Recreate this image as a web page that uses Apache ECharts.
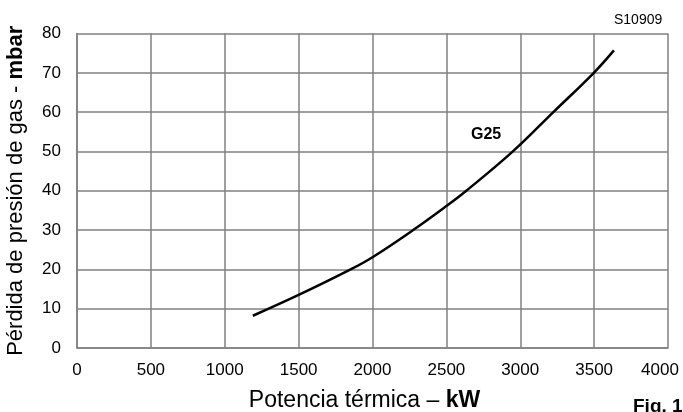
<!DOCTYPE html>
<html><head><meta charset="utf-8">
<script src="https://cdn.jsdelivr.net/npm/echarts@6/dist/echarts.min.js"></script>
<style>html,body{margin:0;padding:0;background:#fff}#c{width:683px;height:412px}</style>
</head><body><div id="c"></div>
<script>
const powerKW = [1190, 1500, 1852, 2000, 2275, 2500, 2635, 2950, 3224, 3498, 3634];
const pressureMbar = [8.2, 13.5, 20, 23.1, 30, 36.1, 40, 50, 60, 70, 75.7];
const seriesName = 'G25';
const chart = echarts.init(document.getElementById('c'));
const F = 'Liberation Sans, Arial, sans-serif';
chart.setOption({
  animation: false,
  grid: {left: 77, right: 15, top: 33.5, bottom: 64, containLabel: false, outerBoundsMode: 'none'},
  xAxis: {
    type: 'value', min: 0, max: 4000, interval: 500,
    axisLine: {show: true, lineStyle: {color: '#808080', width: 1.5}},
    axisTick: {show: false},
    splitLine: {show: true, lineStyle: {color: '#808080', width: 1.5}},
    axisLabel: {color: '#000', fontFamily: F, fontSize: 17, margin: 14,
      formatter: v => v === 4000 ? '{m|' + v + '}' : String(v),
      rich: {m: {fontFamily: F, fontSize: 17, color: '#000', padding: [0, 16, 0, 0]}}},
    name: '{n|Potencia térmica – }{b|kW}',
    nameLocation: 'middle', nameGap: 41,
    nameTextStyle: {padding: [0, 16, 0, 0], rich: {n: {fontFamily: F, fontSize: 23, color: '#000'}, b: {fontFamily: F, fontSize: 23, fontWeight: 'bold', color: '#000'}}}
  },
  yAxis: {
    type: 'value', min: 0, max: 80, interval: 10,
    axisLine: {show: true, lineStyle: {color: '#808080', width: 1.5}},
    axisTick: {show: false},
    splitLine: {show: true, lineStyle: {color: '#808080', width: 1.5}},
    axisLabel: {color: '#000', fontFamily: F, fontSize: 17, margin: 16},
    name: '{n|Pérdida de presión de gas - }{b|mbar}',
    nameLocation: 'middle', nameRotate: 90, nameGap: 50,
    nameTextStyle: {rich: {n: {fontFamily: F, fontSize: 22, color: '#000'}, b: {fontFamily: F, fontSize: 22, fontWeight: 'bold', color: '#000'}}}
  },
  series: [{
    name: seriesName, type: 'line', smooth: 0.4, showSymbol: false,
    data: powerKW.map((x, i) => [x, pressureMbar[i]]),
    lineStyle: {color: '#000', width: 2.5}
  }],
  graphic: [
    {type: 'text', left: 614, top: 13, style: {text: 'S10909', font: '14px Liberation Sans, Arial, sans-serif', fill: '#000'}},
    {type: 'text', left: 471, top: 127, style: {text: 'G25', font: 'bold 16px Liberation Sans, Arial, sans-serif', fill: '#000'}},
    {type: 'text', left: 633, top: 397, style: {text: 'Fig. 1', font: 'bold 19px Liberation Sans, Arial, sans-serif', fill: '#000'}}
  ]
});
</script></body></html>
